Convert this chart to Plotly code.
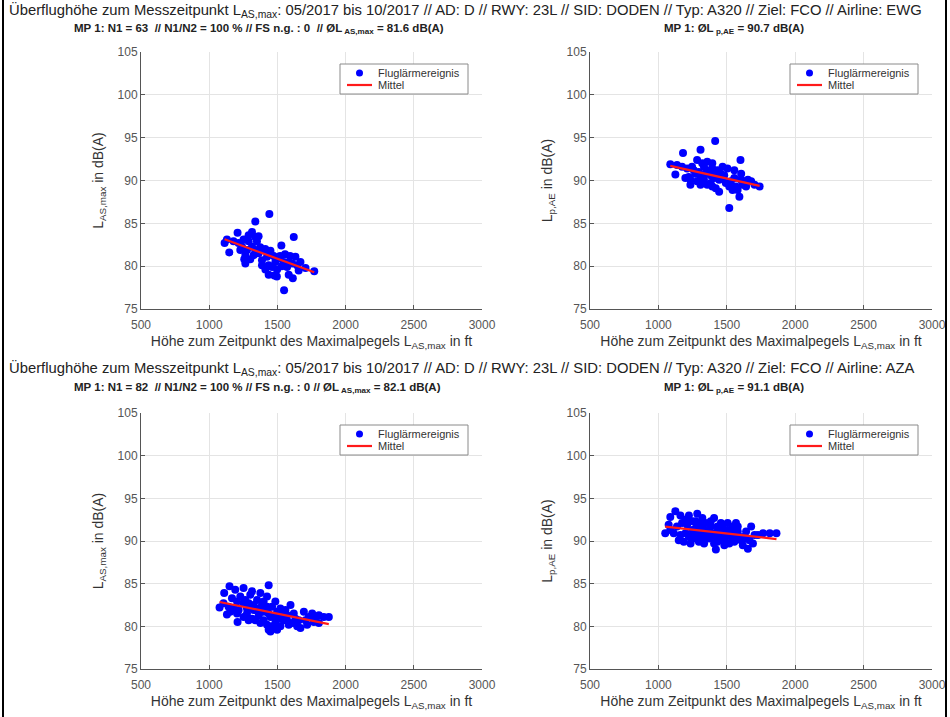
import numpy as np
import plotly.graph_objects as go

# ---------------- data ----------------
x_ticks = [500, 1000, 1500, 2000, 2500, 3000]
y_ticks = [75, 80, 85, 90, 95, 100, 105]
legend_labels = ["Fluglärmereignis", "Mittel"]

# EWG (N1 = 63) -- L_AS,max
ewg_alt_las = [1113, 1147, 1208, 1338, 1441, 1620, 1529, 1770, 1549, 1478, 1265, 1257, 1338, 1362,
               1289, 1252, 1314, 1277, 1362, 1399, 1424, 1449, 1436, 1412, 1485, 1509, 1546, 1571,
               1608, 1632, 1669, 1706, 1613, 1583, 1498, 1461, 1387, 1326, 1240, 1215, 1178, 1289,
               1314, 1350, 1374, 1411, 1449, 1473, 1520, 1556, 1593, 1644, 1532, 1496, 1436, 1265,
               1228, 1387, 1301, 1583, 1656, 1130, 1338]
ewg_las = [82.7, 81.6, 83.9, 85.2, 86.1, 83.4, 82.4, 79.4, 77.2, 78.9, 80.3, 80.8, 83.4, 83.5,
           82.9, 83.1, 82.3, 81.9, 81.5, 81.9, 81.1, 81.5, 80.1, 79.6, 80.5, 80.9, 80.5, 79.9,
           80.3, 81.1, 80.5, 79.8, 78.6, 79.0, 79.6, 79.9, 80.7, 81.3, 82.3, 82.7, 82.9, 83.6,
           84.0, 82.9, 82.2, 82.0, 81.8, 81.2, 81.2, 81.4, 81.2, 80.1, 80.0, 78.8, 79.0, 81.3,
           81.9, 80.1, 80.8, 80.5, 79.5, 83.1, 81.9]

# EWG (N1 = 63) -- L_p,AE
ewg_alt_lae = [1087, 1124, 1180, 1308, 1415, 1600, 1518, 1740, 1592, 1605, 1444, 1234, 1222, 1246,
               1283, 1320, 1271, 1308, 1357, 1394, 1431, 1505, 1382, 1407, 1469, 1493, 1530, 1555,
               1567, 1629, 1654, 1678, 1616, 1357, 1333, 1419, 1456, 1481, 1394, 1357, 1259, 1210,
               1197, 1234, 1283, 1308, 1394, 1419, 1518, 1542, 1579, 1641, 1703, 1296, 1333, 1469,
               1555, 1136, 1173, 1444, 1345, 1382, 1604]
ewg_lae = [91.9, 90.7, 93.2, 93.6, 94.6, 92.4, 86.8, 89.3, 88.1, 90.8, 88.7, 89.5, 90.4, 91.6,
           92.4, 92.0, 90.8, 90.3, 91.2, 91.4, 91.2, 91.4, 89.7, 90.3, 90.3, 89.7, 89.9, 90.3,
           89.3, 89.9, 90.1, 89.9, 89.5, 89.5, 90.1, 90.8, 90.8, 90.6, 92.0, 92.2, 91.2, 91.4,
           90.3, 90.1, 89.9, 89.5, 89.3, 89.1, 89.3, 88.9, 88.9, 89.3, 89.5, 91.0, 91.6, 91.6,
           91.2, 91.8, 91.6, 90.1, 90.8, 90.6, 90.1]

# AZA (N1 = 82) -- L_AS,max
aza_alt_las = [1076, 1110, 1149, 1130, 1208, 1204, 1191, 1252, 1314, 1436, 1424, 1289, 1252, 1167,
               1351, 1387, 1326, 1277, 1363, 1412, 1449, 1461, 1498, 1522, 1485, 1436, 1522, 1571,
               1596, 1620, 1657, 1669, 1694, 1730, 1755, 1804, 1804, 1877, 1583, 1546, 1399, 1314,
               1228, 1264, 1301, 1375, 1399, 1424, 1473, 1534, 1559, 1632, 1706, 1779, 1105, 1142,
               1179, 1216, 1252, 1289, 1338, 1375, 1424, 1461, 1498, 1449, 1608, 1645, 1571, 1485,
               1326, 1363, 1204, 1154, 1436, 1510, 1718, 1767, 1840, 1277, 1387, 1546]
aza_las = [82.2, 83.9, 84.7, 81.4, 80.5, 81.5, 84.3, 84.5, 84.1, 84.8, 83.5, 82.7, 82.7, 83.3,
           83.1, 82.5, 81.9, 81.5, 81.3, 81.7, 81.1, 82.3, 81.7, 82.1, 80.4, 79.6, 80.0, 81.3,
           82.5, 81.5, 80.7, 79.8, 81.7, 81.1, 81.5, 81.3, 80.4, 81.1, 80.2, 80.7, 80.7, 80.9,
           83.5, 83.1, 83.7, 83.9, 82.9, 82.3, 81.1, 81.3, 81.9, 80.9, 80.7, 81.1, 82.7, 82.3,
           82.1, 81.9, 81.1, 80.7, 80.7, 80.4, 80.2, 80.0, 79.6, 79.4, 80.4, 80.0, 80.7, 82.9,
           82.5, 82.1, 82.9, 81.7, 81.5, 80.9, 80.2, 80.5, 81.1, 82.1, 81.7, 81.5]

# AZA (N1 = 82) -- L_p,AE
aza_alt_lae = [1050, 1075, 1087, 1124, 1161, 1173, 1186, 1223, 1284, 1308, 1247, 1334, 1371, 1407,
               1420, 1445, 1482, 1506, 1567, 1555, 1604, 1641, 1654, 1678, 1703, 1765, 1814, 1863,
               1136, 1198, 1260, 1296, 1345, 1383, 1432, 1469, 1531, 1580, 1617, 1728, 1112, 1210,
               1272, 1321, 1358, 1395, 1457, 1494, 1543, 1592, 1629, 1666, 1432, 1407, 1334, 1235,
               1161, 1284, 1358, 1518, 1555, 1198, 1247, 1308, 1383, 1469, 1506, 1580, 1691, 1641,
               1087, 1149, 1223, 1272, 1321, 1371, 1420, 1482, 1543, 1432, 1345, 1260]
aza_lae = [90.9, 91.9, 92.8, 93.5, 93.0, 92.1, 89.9, 93.0, 93.2, 92.1, 91.3, 91.1, 90.3, 92.7,
           89.0, 90.9, 90.1, 91.3, 92.1, 90.7, 90.1, 91.1, 89.1, 91.7, 90.7, 90.9, 90.9, 90.9,
           91.7, 90.9, 90.3, 89.9, 92.1, 91.7, 89.9, 91.5, 90.5, 91.1, 89.5, 90.7, 90.9, 91.9,
           92.3, 92.7, 91.3, 90.9, 92.1, 90.7, 91.7, 90.5, 90.5, 90.1, 91.1, 89.7, 89.7, 89.7,
           90.7, 90.9, 90.5, 89.7, 89.9, 92.5, 92.3, 90.5, 92.3, 90.5, 92.1, 91.7, 89.7, 90.3,
           91.3, 90.1, 90.5, 91.5, 91.5, 91.1, 90.5, 89.5, 91.1, 91.7, 90.3, 90.9]

# ---------------- layout helpers ----------------
W, H = 950, 717
FONT = "Liberation Sans, Arial, sans-serif"
TXT = "#333333"
AX = "#555555"
BLUE = "#0000ff"
RED = "#ff1a1a"


def px(v):
    return v / W


def py(v):
    return 1 - v / H


fig = go.Figure()

panels = [
    ("x", "y", (141, 482), (52, 309), ewg_alt_las, ewg_las, "L<sub>AS,max</sub> in dB(A)"),
    ("x2", "y2", (590, 932), (52, 309), ewg_alt_lae, ewg_lae, "L<sub>p,AE</sub> in dB(A)"),
    ("x3", "y3", (141, 482), (413, 669), aza_alt_las, aza_las, "L<sub>AS,max</sub> in dB(A)"),
    ("x4", "y4", (590, 932), (413, 669), aza_alt_lae, aza_lae, "L<sub>p,AE</sub> in dB(A)"),
]

layout_axes = {}
for i, (xa, ya, (x0, x1), (yt, yb), xs, ys, ylab) in enumerate(panels):
    fig.add_trace(go.Scatter(
        x=xs, y=ys, mode="markers", name=legend_labels[0],
        marker=dict(color=BLUE, size=8, line=dict(width=0)),
        xaxis=xa, yaxis=ya, showlegend=False))
    coef = np.polyfit(xs, ys, 1)
    xl = [min(xs), max(xs)]
    yl = list(np.polyval(coef, xl))
    fig.add_trace(go.Scatter(
        x=xl, y=yl, mode="lines", name=legend_labels[1],
        line=dict(color=RED, width=2.2),
        xaxis=xa, yaxis=ya, showlegend=False))

    xkey = "xaxis" if xa == "x" else "xaxis" + xa[1:]
    ykey = "yaxis" if ya == "y" else "yaxis" + ya[1:]
    layout_axes[xkey] = dict(
        domain=[px(x0), px(x1)], range=[500, 3000], anchor=ya, automargin=False,
        tickvals=x_ticks, ticks="inside", ticklen=4, tickcolor=AX,
        ticklabelstandoff=5,
        showgrid=True, gridcolor="#e4e4e4", gridwidth=1,
        showline=True, linecolor=AX, linewidth=1, mirror=False,
        zeroline=False,
        tickfont=dict(family=FONT, size=12, color=AX),
        title=dict(text="Höhe zum Zeitpunkt des Maximalpegels L<sub>AS,max</sub> in ft",
                   font=dict(family=FONT, size=14, color=TXT), standoff=4),
    )
    layout_axes[ykey] = dict(
        domain=[py(yb), py(yt)], range=[75, 105], anchor=xa, automargin=False,
        tickvals=y_ticks, ticks="inside", ticklen=4, tickcolor=AX,
        showgrid=True, gridcolor="#e4e4e4", gridwidth=1,
        showline=True, linecolor=AX, linewidth=1, mirror=False,
        zeroline=False,
        tickfont=dict(family=FONT, size=12, color=AX),
        title=dict(text=ylab, font=dict(family=FONT, size=14, color=TXT), standoff=10),
    )

    # legend box (drawn in paper space, top-right of each panel)
    bx1 = x1 - 14
    bx0 = bx1 - 128
    by0 = yt + 12
    by1 = by0 + 30
    fig.add_shape(type="rect", xref="paper", yref="paper",
                  x0=px(bx0), x1=px(bx1), y0=py(by1), y1=py(by0),
                  fillcolor="white", line=dict(color="#8a8a8a", width=1), layer="above")
    r1 = by0 + 9
    r2 = by0 + 21
    fig.add_shape(type="circle", xref="paper", yref="paper",
                  x0=px(bx0 + 16), x1=px(bx0 + 23), y0=py(r1 + 3.5), y1=py(r1 - 3.5),
                  fillcolor=BLUE, line=dict(color=BLUE, width=0), layer="above")
    fig.add_shape(type="line", xref="paper", yref="paper",
                  x0=px(bx0 + 7), x1=px(bx0 + 32), y0=py(r2), y1=py(r2),
                  line=dict(color=RED, width=2.2), layer="above")
    for lab, ry in zip(legend_labels, [r1, r2]):
        fig.add_annotation(x=px(bx0 + 36), y=py(ry), xref="paper", yref="paper",
                           xanchor="left", yanchor="middle", showarrow=False,
                           text=lab, font=dict(family=FONT, size=11, color=TXT))

fig.update_layout(
    width=W, height=H,
    margin=dict(l=0, r=0, t=0, b=0, autoexpand=False),
    paper_bgcolor="white", plot_bgcolor="white",
    font=dict(family=FONT, color=TXT),
    showlegend=False,
    **layout_axes,
)

# Titles
line1 = ("Überflughöhe zum Messzeitpunkt L<sub>AS,max</sub>: 05/2017 bis 10/2017 // AD: D // RWY: 23L "
         "// SID: DODEN // Typ: A320 // Ziel: FCO // Airline: {}")
titles = [
    (7, 11, line1.format("EWG"), False, 14.8),
    (72, 29, "MP 1: N1 = 63  // N1/N2 = 100 % // FS n.g. : 0  // ØL<sub> AS,max</sub> = 81.6 dB(A)", True, 11.5),
    (662, 29, "MP 1: ØL<sub> p,AE</sub> = 90.7 dB(A)", True, 11.5),
    (7, 369, line1.format("AZA"), False, 14.8),
    (72, 388, "MP 1: N1 = 82  // N1/N2 = 100 % // FS n.g. : 0 // ØL<sub> AS,max</sub> = 82.1 dB(A)", True, 11.5),
    (662, 388, "MP 1: ØL<sub> p,AE</sub> = 91.1 dB(A)", True, 11.5),
]
for (tx, ty, text, bold, fs) in titles:
    fig.add_annotation(
        x=px(tx), y=py(ty), xref="paper", yref="paper",
        xanchor="left", yanchor="middle", showarrow=False,
        text=("<b>" + text + "</b>") if bold else text,
        font=dict(family=FONT, size=fs, color="#222222"),
    )

# outer frame (scanned page border)
fig.add_shape(type="line", xref="paper", yref="paper", x0=px(3), x1=px(3), y0=0, y1=1,
              line=dict(color="black", width=2))
fig.add_shape(type="line", xref="paper", yref="paper", x0=px(946), x1=px(946), y0=0, y1=1,
              line=dict(color="black", width=2))

fig.write_html("out.html", config={"displayModeBar": False},
               post_script="document.body.style.margin='0';document.body.style.overflow='hidden';")
